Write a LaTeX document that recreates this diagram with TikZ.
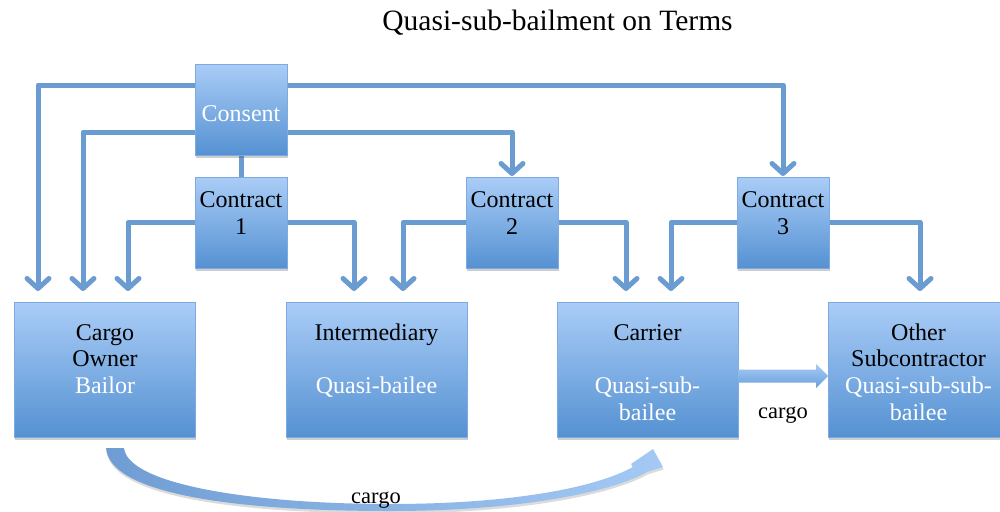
\documentclass[tikz,border=0pt]{standalone}
\usepackage{fontspec}
\setmainfont{Liberation Serif}
\usetikzlibrary{arrows.meta,calc,shadows}
\definecolor{boxtop}{HTML}{AACDF7}
\definecolor{boxbot}{HTML}{5591D2}
\definecolor{boxedge}{HTML}{7DAAE0}
\definecolor{linec}{HTML}{6A9CD2}
\definecolor{arrtop}{HTML}{A6CBF6}
\definecolor{arrbot}{HTML}{6A9FDA}
\definecolor{curvl}{HTML}{6F9DD3}
\definecolor{curvr}{HTML}{A4C9F5}
\tikzset{
  box/.style={draw=boxedge, line width=0.8pt, top color=boxtop, bottom color=boxbot,
    drop shadow={shadow xshift=0.6pt, shadow yshift=-3pt, opacity=0.28, fill=black!70},
    inner sep=0pt, outer sep=0pt},
  smallbox/.style={box, minimum width=92pt, minimum height=91pt},
  bigbox/.style={box, minimum width=181pt, minimum height=135pt},
  boxfont/.style={font=\fontsize{24}{26.8}\selectfont, inner sep=0pt, align=center},
  wtext/.style={boxfont, text=white},
  btext/.style={boxfont, text=black},
  conn/.style={draw=linec, line width=5pt, line join=round},
  arr/.style={conn, -{Straight Barb[length=10pt,width=22pt,line cap=round,line join=round]}},
  lbl/.style={font=\fontsize{22.5}{26}\selectfont, inner sep=0pt, text=black}
}
\begin{document}
\begin{tikzpicture}[x=1pt,y=-1pt]
\fill[white] (0,0) rectangle (1000,511);
\useasboundingbox (0,0) rectangle (1000,511);

% title
\node[font=\fontsize{29.5}{34}\selectfont, anchor=base, inner sep=0pt] (title) at (557.5,31) {Quasi-sub-bailment on Terms};

% lane coordinates
\coordinate (railA) at (0,85);
\coordinate (railB) at (0,132);
\coordinate (xA) at (38,0);
\coordinate (xB) at (83,0);
\coordinate (xC) at (128,0);
\coordinate (xD) at (354,0);
\coordinate (xE) at (403,0);
\coordinate (xF) at (626,0);
\coordinate (xG) at (671,0);
\coordinate (xH) at (920,0);

% node positions (boxes drawn after connectors)
\path (241,109.5) coordinate (pConsent)
      (241,222.5) coordinate (pC1)
      (512,222.5) coordinate (pC2)
      (783,222.5) coordinate (pC3)
      (105,369.5) coordinate (pOwner)
      (376.5,369.5) coordinate (pInter)
      (647.5,369.5) coordinate (pCarrier)
      (918.5,369.5) coordinate (pOther);

% invisible anchors to route connectors
\node[minimum width=92pt, minimum height=91pt, inner sep=0pt, outer sep=0pt] (consent) at (pConsent) {};
\node[minimum width=92pt, minimum height=91pt, inner sep=0pt, outer sep=0pt] (c1) at (pC1) {};
\node[minimum width=92pt, minimum height=91pt, inner sep=0pt, outer sep=0pt] (c2) at (pC2) {};
\node[minimum width=92pt, minimum height=91pt, inner sep=0pt, outer sep=0pt] (c3) at (pC3) {};
\node[minimum width=181pt, minimum height=135pt, inner sep=0pt, outer sep=0pt] (owner) at (pOwner) {};
\node[minimum width=181pt, minimum height=135pt, inner sep=0pt, outer sep=0pt] (inter) at (pInter) {};
\node[minimum width=181pt, minimum height=135pt, inner sep=0pt, outer sep=0pt] (carrier) at (pCarrier) {};
\node[minimum width=181pt, minimum height=135pt, inner sep=0pt, outer sep=0pt] (other) at (pOther) {};

% connectors
\draw[arr, shorten >=11pt] (consent.west |- railA) -| (xA |- owner.north);
\draw[arr, shorten >=11pt] (consent.west |- railB) -| (xB |- owner.north);
\draw[arr, shorten >=1pt] (consent.east |- railA) -| (c3.north);
\draw[arr, shorten >=1pt] (consent.east |- railB) -| (c2.north);
\draw[conn] (consent.south) -- (c1.north);
\draw[arr, shorten >=11pt] (c1.west) -| (xC |- owner.north);
\draw[arr, shorten >=11pt] (c1.east) -| (xD |- inter.north);
\draw[arr, shorten >=11pt] (c2.west) -| (xE |- inter.north);
\draw[arr, shorten >=11pt] (c2.east) -| (xF |- carrier.north);
\draw[arr, shorten >=11pt] (c3.west) -| (xG |- carrier.north);
\draw[arr, shorten >=11pt] (c3.east) -| (xH |- other.north);

% boxes
\node[smallbox] (consentB) at (pConsent) {};
\node[smallbox] (c1B) at (pC1) {};
\node[smallbox] (c2B) at (pC2) {};
\node[smallbox] (c3B) at (pC3) {};
\node[bigbox] (ownerB) at (pOwner) {};
\node[bigbox] (interB) at (pInter) {};
\node[bigbox] (carrierB) at (pCarrier) {};
\node[bigbox] (otherB) at (pOther) {};

% box texts
\node[wtext, anchor=base] (consentT) at ($(consent.center)+(0,11.5)$) {Consent};
\node[btext, anchor=north] (c1T) at ($(c1.center)+(0,-33.8)$) {\strut Contract\\1};
\node[btext, anchor=north] (c2T) at ($(c2.center)+(0,-33.8)$) {\strut Contract\\2};
\node[btext, anchor=north] (c3T) at ($(c3.center)+(0,-33.8)$) {\strut Contract\\3};
\node[btext, anchor=north] (ownerT) at ($(owner.center)+(0,-48.3)$) {\strut Cargo\\Owner\\\textcolor{white}{Bailor}};
\node[btext, anchor=north] (interT) at ($(inter.center)+(0,-48.3)$) {\strut Intermediary\\\mbox{}\\\textcolor{white}{Quasi-bailee}};
\node[btext, anchor=north] (carrierT) at ($(carrier.center)+(0,-48.3)$) {\strut Carrier\\\mbox{}\\\textcolor{white}{Quasi-sub-}\\\textcolor{white}{bailee}};
\node[btext, anchor=north] (otherT) at ($(other.center)+(0,-48.3)$) {\strut Other\\Subcontractor\\\textcolor{white}{Quasi-sub-sub-}\\\textcolor{white}{bailee}};

% straight block arrow carrier -> other
\path[top color=arrtop, bottom color=arrbot]
  (carrier.east) -- ([xshift=-12pt]other.west) -- ([xshift=-12pt,yshift=5.5pt]other.west)
  -- ([yshift=-6.5pt]other.west) -- ([xshift=-12pt,yshift=-18.5pt]other.west)
  -- ([xshift=-12pt,yshift=-13pt]other.west) -- ([yshift=-13pt]carrier.east) -- cycle;
\node[lbl, anchor=base] (cargoA) at (783,418) {cargo};

% curved block arrow owner -> carrier
\path[left color=curvl, right color=curvr,
      drop shadow={shadow xshift=0.5pt, shadow yshift=-2.5pt, opacity=0.2, fill=black!70}]
  ($(owner.south)+(1,11)$) .. controls (110,497) and (250,511) .. (390,511)
  .. controls (520,511) and (612,492) .. ($(carrier.south)+(-0.5,35)$)
  -- ($(carrier.south)+(15.5,30)$) -- ($(carrier.south)+(5.5,12)$)
  -- ($(carrier.south)+(-16.5,27)$) -- ($(carrier.south)+(-14.5,30)$)
  .. controls (595,488) and (510,504) .. (390,504)
  .. controls (255,504) and (128,485) .. ($(owner.south)+(19,11)$) -- cycle;
\node[lbl, anchor=base] (cargoB) at (376,503) {cargo};
\end{tikzpicture}
\end{document}
